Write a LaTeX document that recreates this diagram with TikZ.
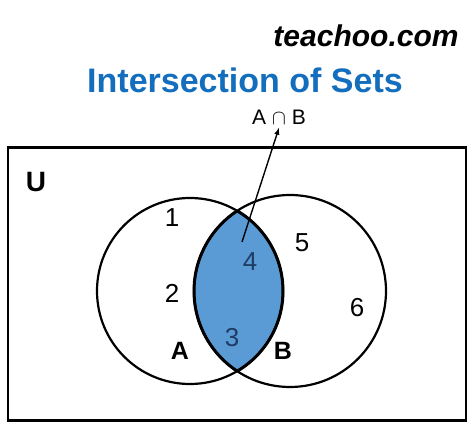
\documentclass[tikz,border=0pt]{standalone}
\usepackage{fontspec}
\setmainfont{Liberation Sans}
\usepackage{amssymb}
\definecolor{lens}{RGB}{91,155,213}
\definecolor{ttl}{RGB}{20,110,190}
\definecolor{dk}{RGB}{30,60,100}
\begin{document}
\begin{tikzpicture}[x=1pt,y=-1pt,
  num/.style={font=\fontsize{26}{26}\selectfont},
  bnum/.style={font=\bfseries\fontsize{25}{25}\selectfont},
  set/.style={draw=black,line width=2.2pt}]
\useasboundingbox (0,0) rectangle (474,435);
\fill[white] (0,0) rectangle (474,435);
\node (logo) at (366,36) {\bfseries\itshape\fontsize{30}{30}\selectfont teachoo.com};
\node[text=ttl] (title) at (245,80) {\bfseries\fontsize{34}{34}\selectfont Intersection of Sets};
\node (ab) at (279,117) {\fontsize{21}{21}\selectfont A $\cap$ B};
\node[draw,line width=2.2pt,minimum width=458,minimum height=273,inner sep=0] (U) at (237,284) {};
\begin{scope}
\clip (190,291) circle (93);
\fill[lens] (290,291) circle (96);
\end{scope}
\begin{scope}
\clip (190,291) circle (93);
\draw[line width=3pt] (290,291) circle (96);
\end{scope}
\begin{scope}
\clip (290,291) circle (96);
\draw[line width=3pt] (190,291) circle (93);
\end{scope}
\node[set,circle,minimum size=186,inner sep=0] (A) at (190,291) {};
\node[set,circle,minimum size=192,inner sep=0] (B) at (290,291) {};
\coordinate (tail) at (242,242);
\draw[line width=1.4pt,-latex] (tail) -- (ab.south);
\node[font=\bfseries\fontsize{28}{28}\selectfont] (u) at (36,182) {U};
\node[num] (n1) at (172,218) {1};
\node[num] (n2) at (172,293) {2};
\node[num,text=dk] (n4) at (250,262) {4};
\node[num,text=dk] (n3) at (232,338) {3};
\node[num] (n5) at (302,243) {5};
\node[num] (n6) at (357,308) {6};
\node[bnum] (la) at (180,351) {A};
\node[bnum] (lb) at (283,351) {B};
\end{tikzpicture}
\end{document}
